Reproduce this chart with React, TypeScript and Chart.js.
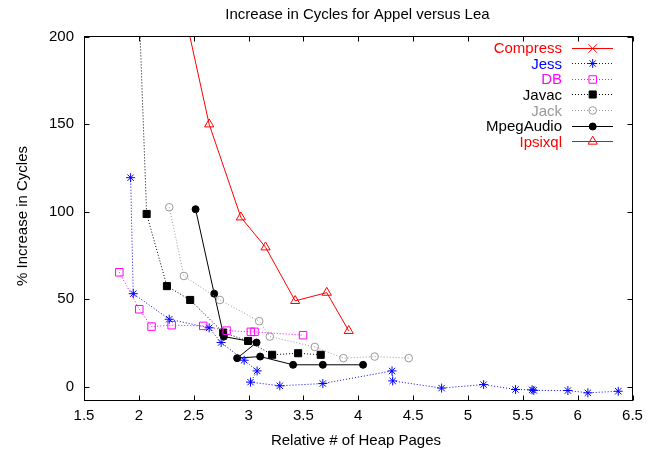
import React, { useEffect, useRef } from 'react';
import { Chart, registerables } from 'chart.js';
import { drawPoint } from 'chart.js/helpers';

Chart.register(...registerables);

const chartTitle = 'Increase in Cycles for Appel versus Lea';
const xTitle = 'Relative # of Heap Pages';
const yTitle = '% Increase in Cycles';

const xTicks = [1.5, 2, 2.5, 3, 3.5, 4, 4.5, 5, 5.5, 6, 6.5];
const yTicks = [0, 50, 100, 150, 200];

const seriesNames = ['Compress', 'Jess', 'DB', 'Javac', 'Jack', 'MpegAudio', 'Ipsixql'];

// Compress lies entirely above the plotted range
const compressX: number[] = [];
const compressY: number[] = [];

const jessX = [1.925, 1.949, 2.277, 2.641, 2.75, 2.96, 3.078, 3.018, 3.285, 3.677, 4.308, 4.314, 4.76, 5.143, 5.434, 5.585, 5.6, 5.911, 6.093, 6.37];
const jessY = [119.4, 53.2, 38.6, 33.7, 25.3, 15.2, 9.1, 2.7, 0.6, 1.9, 9.1, 3.4, -0.7, 1.3, -1.5, -1.7, -2.0, -2.1, -3.4, -2.5];

const dbX = [1.822, 2.004, 2.116, 2.299, 2.587, 2.8, 3.021, 3.054, 3.497];
const dbY = [65.4, 44.3, 34.4, 35.2, 34.8, 32.1, 31.4, 31.4, 29.5];

const javacX = [2.0, 2.071, 2.256, 2.468, 2.769, 2.996, 3.215, 3.452, 3.658];
const javacY = [220, 98.7, 57.5, 49.6, 31.0, 26.2, 18.3, 19.2, 18.3];

const jackX = [2.277, 2.411, 2.739, 3.097, 3.194, 3.604, 3.865, 4.15, 4.46];
const jackY = [102.5, 63.3, 49.6, 37.5, 28.7, 22.8, 16.4, 17.3, 16.4];

const mpegX = [2.517, 2.687, 2.775, 3.073, 2.896, 3.106, 3.406, 3.677, 4.044];
const mpegY = [101.4, 53.2, 28.7, 25.3, 16.4, 17.3, 12.6, 12.6, 12.6];

const ipsX = [2.29, 2.641, 2.93, 3.155, 3.425, 3.713, 3.913];
const ipsY = [250, 149.9, 96.8, 79.7, 49.1, 53.8, 32.0];

const FONT = "'Liberation Sans', Arial, Helvetica, sans-serif";

const pts = (xs: number[], ys: number[]) => xs.map((x, i) => ({ x, y: ys[i] }));

type Style = { color: string; dash: number[]; point: string; radius: number; fill: string };
const styles: Style[] = [
  { color: '#ff0000', dash: [], point: 'crossRot', radius: 6, fill: 'rgba(0,0,0,0)' },
  { color: '#0000ff', dash: [1, 2], point: 'star', radius: 4.5, fill: 'rgba(0,0,0,0)' },
  { color: '#ff00ff', dash: [1, 2], point: 'rect', radius: 5.3, fill: 'rgba(0,0,0,0)' },
  { color: '#000000', dash: [1, 2], point: 'rect', radius: 5, fill: '#000000' },
  { color: '#999999', dash: [1, 2], point: 'circle', radius: 3.8, fill: 'rgba(0,0,0,0)' },
  { color: '#000000', dash: [], point: 'circle', radius: 3.5, fill: '#000000' },
  { color: '#ff0000', dash: [], point: 'triangle', radius: 5.3, fill: 'rgba(0,0,0,0)' },
];

const seriesData = [
  pts(compressX, compressY),
  pts(jessX, jessY),
  pts(dbX, dbY),
  pts(javacX, javacY),
  pts(jackX, jackY),
  pts(mpegX, mpegY),
  pts(ipsX, ipsY),
];

const framePlugin = {
  id: 'gnuframe',
  afterDraw(chart: any) {
    const ctx = chart.ctx as CanvasRenderingContext2D;
    const { left, right, top, bottom } = chart.chartArea;
    const xs = chart.scales.x;
    const ys = chart.scales.y;
    ctx.save();
    // border
    ctx.strokeStyle = '#000';
    ctx.lineWidth = 1;
    ctx.setLineDash([]);
    const L = Math.floor(left) + 0.5;
    const R = Math.floor(right) + 0.5;
    const T = Math.floor(top) + 0.5;
    const B = Math.floor(bottom) + 0.5;
    ctx.strokeRect(L, T, R - L, B - T);
    const tl = 5;
    ctx.beginPath();
    xTicks.forEach((v) => {
      const px = Math.round(xs.getPixelForValue(v)) + 0.5;
      ctx.moveTo(px, B);
      ctx.lineTo(px, B - tl);
      ctx.moveTo(px, T);
      ctx.lineTo(px, T + tl);
    });
    yTicks.forEach((v) => {
      const py = Math.round(ys.getPixelForValue(v)) + 0.5;
      ctx.moveTo(L, py);
      ctx.lineTo(L + tl, py);
      ctx.moveTo(R, py);
      ctx.lineTo(R - tl, py);
    });
    ctx.stroke();

    // titles
    ctx.fillStyle = '#000';
    ctx.font = `15px ${FONT}`;
    ctx.textAlign = 'center';
    ctx.textBaseline = 'alphabetic';
    ctx.fillText(chartTitle, 357.5, 18.5);
    ctx.fillText(xTitle, 356, 445);
    ctx.save();
    ctx.translate(27, 216);
    ctx.rotate(-Math.PI / 2);
    ctx.fillText(yTitle, 0, 0);
    ctx.restore();

    // legend
    const rowH = 15.65;
    chart.data.datasets.forEach((ds: any, i: number) => {
      const cy = 47.5 + i * rowH;
      ctx.fillStyle = ds.borderColor;
      ctx.textAlign = 'right';
      ctx.fillText(ds.label, 562, cy + 5.4);
      ctx.strokeStyle = ds.borderColor;
      ctx.lineWidth = 1;
      ctx.setLineDash(ds.borderDash || []);
      ctx.beginPath();
      ctx.moveTo(572, Math.round(cy) + 0.5);
      ctx.lineTo(613, Math.round(cy) + 0.5);
      ctx.stroke();
      ctx.setLineDash([]);
      ctx.fillStyle = ds.pointBackgroundColor;
      ctx.strokeStyle = ds.borderColor;
      drawPoint(ctx, { pointStyle: ds.pointStyle, radius: ds.pointRadius, borderWidth: 1, rotation: 0 } as any, 592.7, Math.round(cy) + 0.5);
    });
    ctx.restore();
  },
};

export default function App() {
  const ref = useRef<HTMLCanvasElement>(null);
  useEffect(() => {
    const canvas = ref.current!;
    const chart = new Chart(canvas, {
      type: 'scatter',
      data: {
        datasets: seriesNames.map((name, i) => ({
          label: name,
          data: seriesData[i],
          showLine: true,
          borderColor: styles[i].color,
          backgroundColor: styles[i].color,
          borderWidth: 1,
          borderDash: styles[i].dash,
          pointStyle: styles[i].point as any,
          pointRadius: styles[i].radius,
          pointBorderWidth: 1,
          pointBorderColor: styles[i].color,
          pointBackgroundColor: styles[i].fill,
          tension: 0,
        })),
      },
      options: {
        responsive: false,
        animation: false,
        devicePixelRatio: 1,
        layout: { padding: { top: 36.5, right: 24.5, left: 0, bottom: 0 } },
        plugins: {
          legend: { display: false },
          title: { display: false },
          tooltip: { enabled: false },
        },
        scales: {
          x: {
            type: 'linear',
            min: 1.5,
            max: 6.5,
            afterBuildTicks: (s: any) => {
              s.ticks = xTicks.map((v) => ({ value: v }));
            },
            afterFit: (s: any) => {
              s.height = 53;
            },
            grid: { display: false, drawTicks: false },
            border: { display: false },
            ticks: {
              autoSkip: false,
              maxRotation: 0,
              padding: 7,
              color: '#000',
              font: { family: FONT, size: 15 },
              callback: (v: any) => String(v),
            },
          },
          y: {
            type: 'linear',
            min: -7.5,
            max: 200,
            afterBuildTicks: (s: any) => {
              s.ticks = yTicks.map((v) => ({ value: v }));
            },
            afterFit: (s: any) => {
              s.width = 84;
            },
            grid: { display: false, drawTicks: false },
            border: { display: false },
            ticks: {
              padding: 10,
              color: '#000',
              font: { family: FONT, size: 15 },
              callback: (v: any) => String(v),
            },
          },
        },
      },
      plugins: [framePlugin],
    });
    return () => chart.destroy();
  }, []);
  return (
    <div style={{ position: 'fixed', left: 0, top: 0, width: 657, height: 453, background: '#fff' }}>
      <canvas ref={ref} width={657} height={453} style={{ display: 'block', width: 657, height: 453 }} />
    </div>
  );
}
